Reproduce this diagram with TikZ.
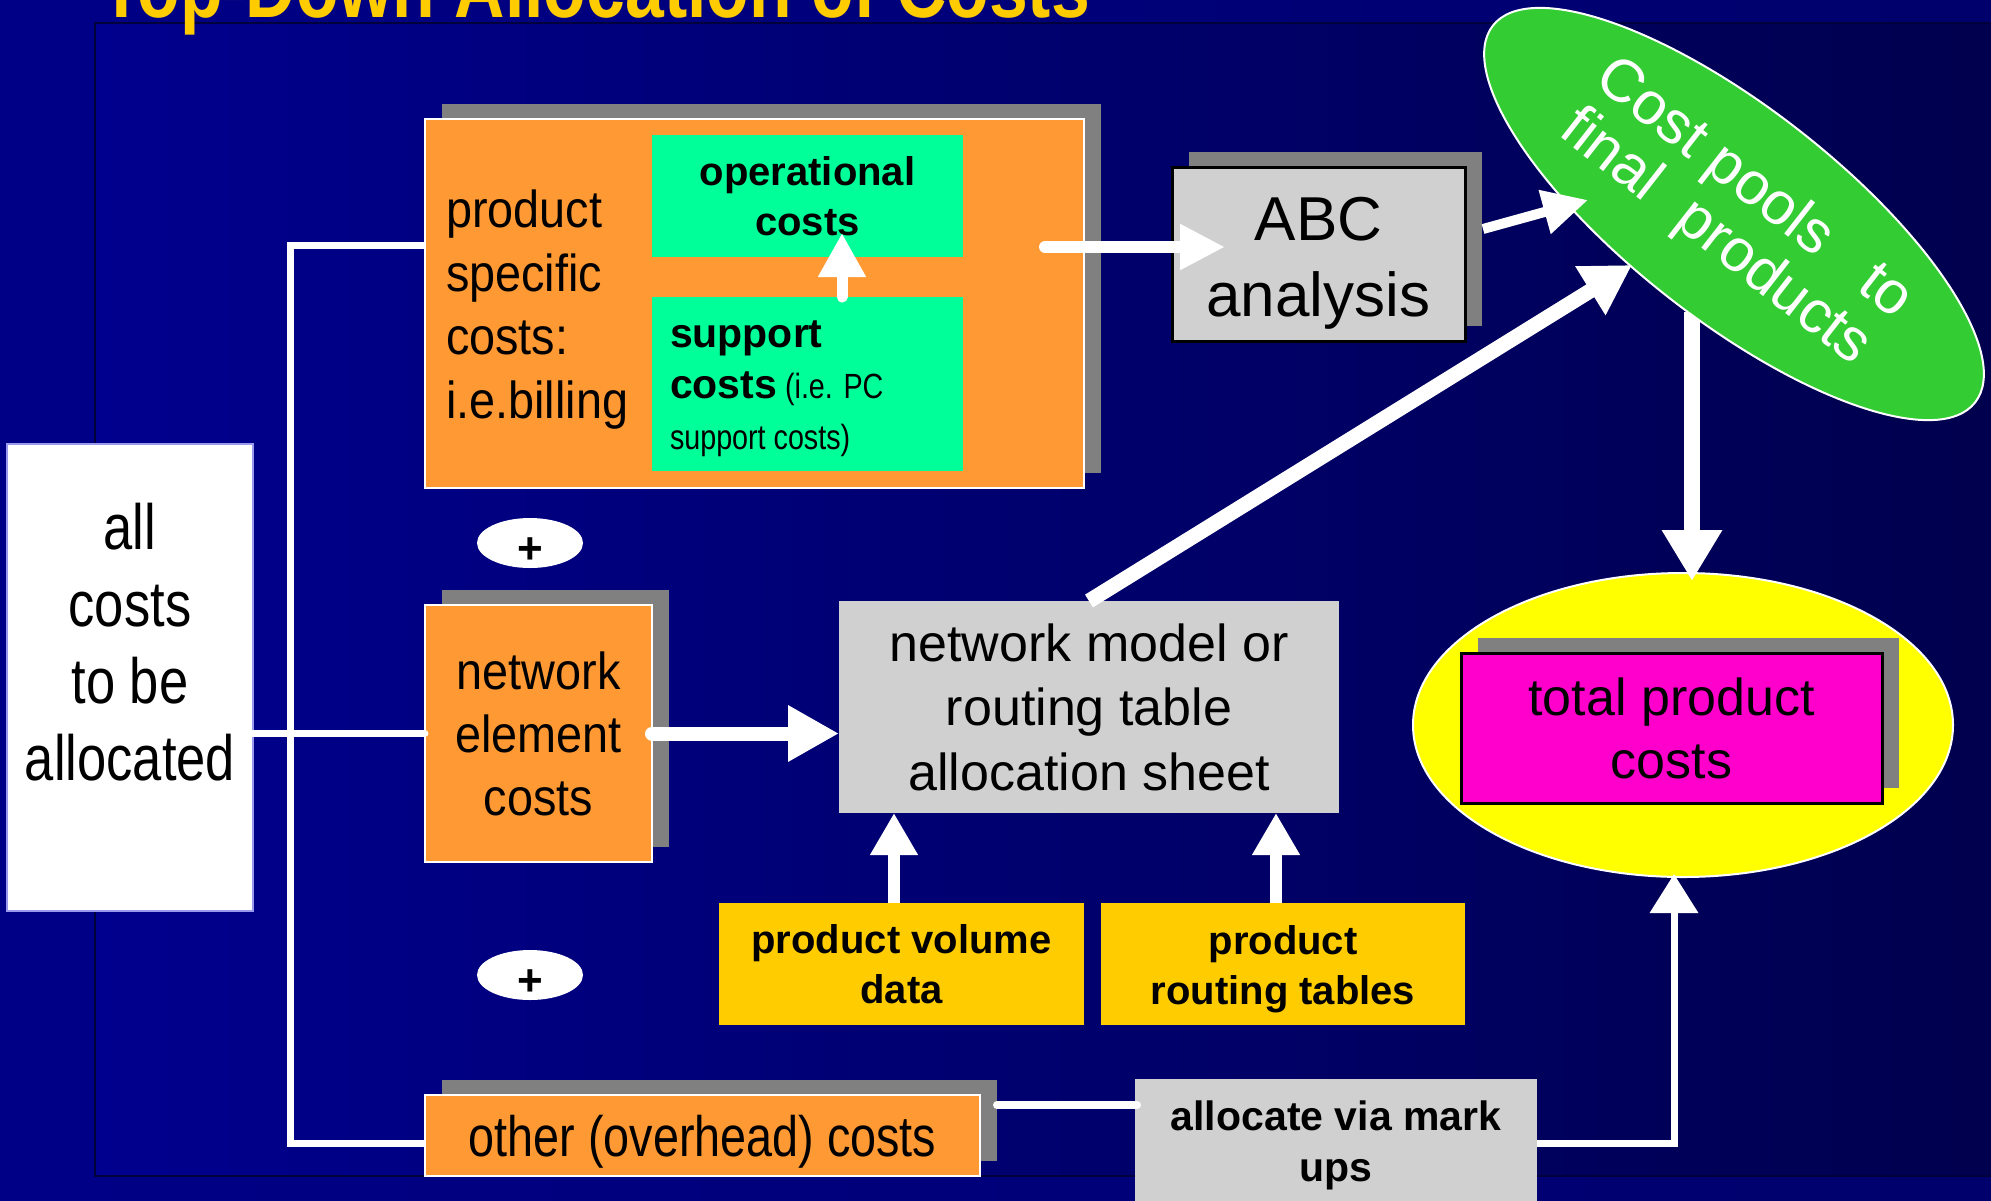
\documentclass[tikz,border=0pt]{standalone}
\usepackage{fontspec}
\setmainfont{Liberation Sans}
\newfontfamily\nf[FakeStretch=0.82]{Liberation Sans}
\newfontfamily\nfb[FakeStretch=0.9]{Liberation Sans}
\usetikzlibrary{arrows.meta,shapes.geometric,shadows}
\definecolor{orng}{HTML}{FF9933}
\definecolor{mint}{HTML}{00FF99}
\definecolor{lgray}{HTML}{D0D0D0}
\definecolor{shad}{HTML}{808080}
\definecolor{gold}{HTML}{FFCC00}
\definecolor{magen}{HTML}{FF00CC}
\definecolor{yell}{HTML}{FFFF00}
\definecolor{grn}{HTML}{33CC33}
\definecolor{acb}{HTML}{9999EE}
\definecolor{bgoA}{RGB}{0,0,135}
\definecolor{bgoB}{RGB}{0,0,108}
\definecolor{bgpA}{RGB}{0,0,142}
\definecolor{bgpB}{RGB}{0,0,78}
\definecolor{pline}{RGB}{0,0,60}
\begin{document}
\begin{tikzpicture}[x=1pt,y=-1pt,
  every node/.style={inner sep=0pt,outer sep=0pt},
  shd/.style={drop shadow={shadow xshift=17pt,shadow yshift=15pt,fill=shad,opacity=1}},
  obox/.style={rectangle,fill=orng,draw=white,line width=2pt,shd},
  gbox/.style={rectangle,fill=mint},
  cbox/.style={rectangle,fill=lgray},
  ybox/.style={rectangle,fill=gold},
  sz/.style 2 args={minimum width=#1pt,minimum height=#2pt},
  wline/.style={draw=white,line width=#1pt},
  tipA/.style 2 args={-{Triangle[width=#1pt,length=#2pt]}},
  plusnode/.style={ellipse,fill=white,minimum width=106pt,minimum height=50pt,font=\bfseries\fontsize{44}{44}\selectfont},
]
\useasboundingbox (0,0) rectangle (1991,1200);
% background
\shade[left color=bgoA,right color=bgoB] (0,0) rectangle (1991,1200);
\shade[left color=bgpA,right color=bgpB] (95,23) rectangle (1995,1176);
\draw[pline,line width=1.5pt] (1995,23) -- (95,23) -- (95,1176) -- (1995,1176);
% title
\node[anchor=base west,text=gold,font=\nf\bfseries\fontsize{85}{90}\selectfont] (title) at (100,17) {Top-Down Allocation of Costs};

% connector end points
\coordinate (j1) at (290,245);
\coordinate (j2) at (290,1143);
\coordinate (j3) at (1674,1143);
\coordinate (a1s) at (842,297);
\coordinate (a1e) at (842,233);
\coordinate (a2s) at (1045,247);
\coordinate (a2e) at (1225,247);
\coordinate (a3s) at (1483,229);
\coordinate (a3e) at (1588,200);
\coordinate (a4e) at (1632,265);
\coordinate (a5s) at (1692,312);
\coordinate (a5e) at (1692,581);
\coordinate (a9e) at (1674,874);
\coordinate (l3s) at (997,1105);
\coordinate (l3e) at (1137,1105);

% boxes
\node[obox,sz={659}{369}] (ps) at (754.5,303.5) {};
\node[gbox,sz={311}{122},align=center,font=\bfseries\fontsize{40}{50}\selectfont] (op) at (807.5,196) {operational\\costs};
\node[gbox,sz={311}{174}] (sp) at (807.5,384) {};
\node[anchor=west,align=left,font=\nf\fontsize{35}{51}\selectfont] (sptext) at (670,388.5)
  {{\normalfont\bfseries\fontsize{41}{51}\selectfont support}\\{\normalfont\bfseries\fontsize{41}{51}\selectfont costs} (i.e. PC\\support costs)};
\node[anchor=west,align=left,font=\nfb\fontsize{52}{63.7}\selectfont] (pstext) at (446,309.5) {product\\specific\\costs:\\i.e.billing};

\node[cbox,draw=black,line width=3pt,sz={293}{174},shd] (abc) at (1318.5,254) {};
\node[align=center,font=\fontsize{62}{76}\selectfont] (abctext) at (1318.5,263.5) {ABC\\analysis};

\node[rectangle,fill=white,draw=acb,line width=2pt,sz={246}{467}] (ac) at (130,677.5) {};
\node[align=center,font=\nf\fontsize{64}{77}\selectfont] (actext) at (130,642) {all\\costs\\to be\hspace*{12pt}\\allocated};

\node[plusnode] (pl1) at (530,543) {\smash{\raisebox{-20pt}{+}}};
\node[plusnode] (pl2) at (530,975) {\smash{\raisebox{-20pt}{+}}};

\node[obox,sz={227}{257},align=center,font=\nfb\fontsize{52}{63}\selectfont] (ne) at (538.5,733.5) {network\\element\\costs};
\node[cbox,sz={500}{212},align=center,font=\fontsize{52}{64.5}\selectfont] (nm) at (1089,707) {network model or\\routing table\\allocation sheet};

\node[ybox,sz={365}{122},align=center,font=\bfseries\fontsize{40}{50}\selectfont] (pv) at (901.5,964) {product volume\\data};
\node[ybox,sz={364}{122}] (rt) at (1283,964) {};
\node[align=center,font=\bfseries\fontsize{40}{50}\selectfont] (rttext) at (1283,969.7) {product\\routing tables};

\node[obox,sz={555}{81}] (oc) at (702.5,1135.5) {};
\node[anchor=base,font=\nf\fontsize{57}{68}\selectfont] (octext) at (702.5,1156) {other (overhead) costs};
\node[cbox,sz={402}{122}] (al) at (1336,1140) {};
\node[align=center,font=\bfseries\fontsize{41}{51}\selectfont] (altext) at (1336,1145) {allocate via mark\\ups};

\node[ellipse,fill=yell,draw=white,line width=2pt,sz={540}{304}] (ye) at (1683,725) {};
\node[rectangle,fill=magen,draw=black,line width=3pt,sz={421}{150},shd,align=center,font=\fontsize{52}{63}\selectfont] (tp) at (1671.5,728) {total product\\costs};

% thin connectors
\draw[wline=7] (ps.west |- j1) -- (j1) -- (j2) -- (oc.west |- j2);
\draw[wline=7,line cap=round] (ac.east |- ne.west) -- (ne.west);
\draw[wline=8,line cap=round] (l3s) -- (l3e);
\draw[wline=7,tipA={47}{39}] (al.east |- j3) -- (j3) -- (a9e);

% arrow from cost pools to total (under the green ellipse)
\draw[wline=16,tipA={57}{51}] (a5s) -- (a5e);

\node[ellipse,fill=grn,draw=white,line width=2pt,sz={612}{212},rotate=-38,text=white,align=center,font=\fontsize{60}{62}\selectfont] (cp) at (1734,214) {Cost pools\hspace{50pt}to\\final\hspace{36pt}products};

% arrows
\draw[wline=11,line cap=round,tipA={45}{44}] (a1s) -- (a1e);
\draw[wline=12,line cap=round,tipA={43}{45}] (a2s) -- (a2e);
\draw[wline=10,tipA={43}{45}] (a3s) -- (a3e);
\draw[wline=15,tipA={54}{49}] (nm.north) -- (a4e);
\draw[wline=14,line cap=round,tipA={53}{51}] (ne.east) -- (nm.west |- ne.east);
\draw[wline=12,tipA={45}{42}] (894,0 |- pv.north) -- (894,0 |- nm.south);
\draw[wline=12,tipA={45}{42}] (1276,0 |- rt.north) -- (1276,0 |- nm.south);
\end{tikzpicture}
\end{document}
